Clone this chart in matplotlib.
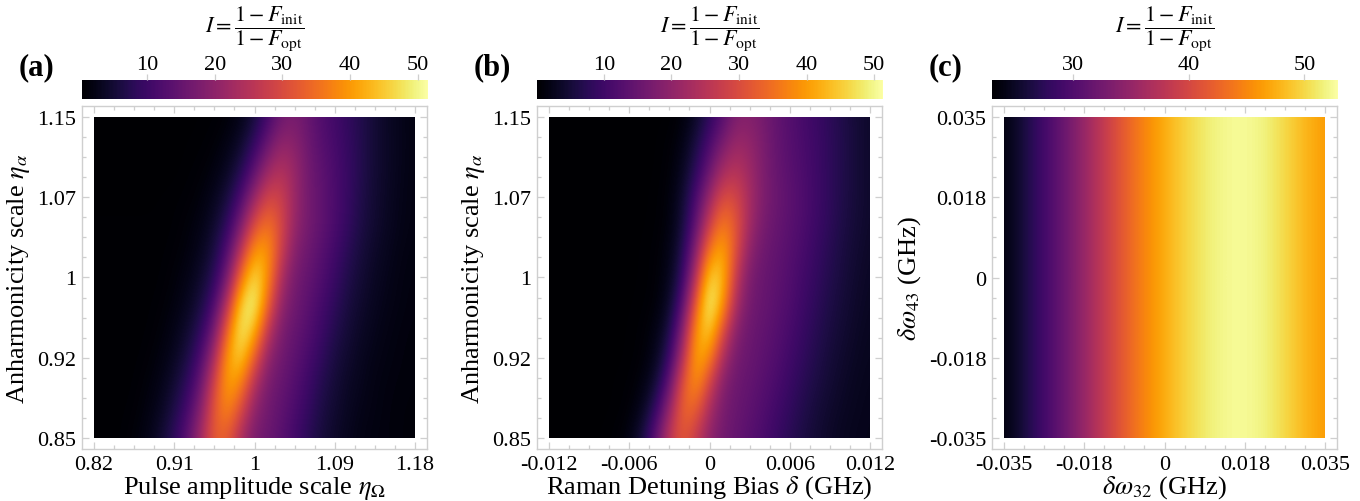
import matplotlib
matplotlib.use("Agg")
import matplotlib.pyplot as plt
import numpy as np
from matplotlib.patches import Rectangle
from matplotlib.ticker import AutoMinorLocator

plt.rcParams["font.family"] = "serif"
plt.rcParams["font.serif"] = ["Liberation Serif", "DejaVu Serif"]
plt.rcParams["mathtext.fontset"] = "stix"

# ---------------- panel (a): eta_Omega vs eta_alpha ----------------
eta_omega = np.linspace(0.82, 1.18, 25)          # columns, step 0.015
eta_alpha = np.linspace(0.85, 1.15, 13)          # rows, step 0.025
improve_a = [
    [0.6, 0.6, 0.8, 1.3, 2.4, 4.8, 8.5, 14.0, 22.8, 32.9, 32.4, 23.2, 17.3, 15.6, 13.3, 10.6, 7.8, 5.6, 4.1, 3.0, 2.2, 1.8, 1.6, 1.4, 1.3],
    [0.6, 0.6, 0.7, 1.0, 1.8, 3.5, 6.5, 11.2, 19.4, 32.6, 38.2, 29.6, 19.7, 16.4, 14.2, 11.7, 9.0, 6.3, 4.7, 3.4, 2.5, 2.0, 1.6, 1.4, 1.3],
    [0.6, 0.6, 0.6, 0.8, 1.4, 2.5, 4.9, 8.6, 15.5, 29.4, 41.8, 37.4, 24.2, 17.4, 15.2, 12.8, 10.1, 7.2, 5.3, 3.8, 2.9, 2.1, 1.7, 1.5, 1.4],
    [0.6, 0.6, 0.6, 0.7, 1.0, 1.8, 3.4, 6.3, 11.7, 23.4, 41.2, 46.1, 32.7, 20.2, 16.4, 14.0, 11.4, 8.6, 6.0, 4.5, 3.2, 2.4, 1.9, 1.6, 1.4],
    [0.6, 0.6, 0.6, 0.6, 0.8, 1.3, 2.4, 4.6, 8.3, 16.9, 35.0, 50.0, 42.9, 26.1, 17.6, 15.1, 12.7, 10.0, 7.1, 5.2, 3.8, 2.8, 2.1, 1.7, 1.5],
    [0.6, 0.6, 0.6, 0.6, 0.7, 1.0, 1.7, 3.2, 5.9, 11.5, 25.6, 46.5, 51.0, 34.0, 20.4, 16.3, 13.8, 11.1, 8.4, 5.9, 4.4, 3.2, 2.4, 1.9, 1.6],
    [0.6, 0.6, 0.6, 0.6, 0.6, 0.8, 1.3, 2.3, 4.3, 8.0, 17.4, 35.9, 48.4, 39.2, 23.7, 17.1, 14.9, 12.3, 9.6, 6.8, 5.0, 3.6, 2.7, 2.0, 1.7],
    [0.6, 0.6, 0.6, 0.6, 0.6, 0.7, 1.0, 1.6, 3.1, 5.9, 12.4, 25.7, 40.5, 40.4, 28.1, 18.9, 15.9, 13.3, 10.6, 7.8, 5.6, 4.1, 3.0, 2.2, 1.8],
    [0.6, 0.6, 0.6, 0.6, 0.6, 0.6, 0.8, 1.3, 2.2, 4.4, 8.5, 17.5, 30.3, 36.2, 29.8, 21.0, 17.0, 14.4, 11.7, 9.0, 6.3, 4.7, 3.4, 2.5, 2.0],
    [0.6, 0.6, 0.6, 0.6, 0.6, 0.6, 0.7, 0.9, 1.5, 3.0, 5.7, 11.6, 21.4, 29.4, 28.4, 21.6, 16.8, 14.4, 11.8, 9.3, 6.7, 4.9, 3.6, 2.6, 2.0],
    [0.5, 0.5, 0.5, 0.5, 0.5, 0.5, 0.5, 0.7, 1.0, 1.8, 3.6, 7.1, 13.9, 21.9, 25.0, 21.5, 16.6, 14.1, 11.7, 9.4, 7.1, 5.0, 3.8, 2.7, 2.1],
    [0.5, 0.5, 0.5, 0.5, 0.5, 0.5, 0.5, 0.6, 0.7, 1.1, 2.2, 4.3, 8.9, 15.5, 20.7, 19.7, 16.0, 13.2, 11.2, 9.1, 7.1, 5.1, 3.8, 2.8, 2.1],
    [0.5, 0.5, 0.5, 0.5, 0.5, 0.5, 0.5, 0.5, 0.6, 0.7, 1.2, 2.5, 5.4, 10.7, 16.0, 17.5, 15.2, 12.5, 10.6, 8.7, 6.9, 5.1, 3.7, 2.8, 2.0],
]

# ---------------- panel (b): Raman detuning bias vs eta_alpha ----------------
detuning = np.linspace(-0.012, 0.012, 25)        # GHz, step 0.001
improve_b = [
    [0.25, 0.25, 0.25, 0.25, 0.3, 0.6, 1.8, 5.7, 14.3, 26.1, 32.0, 26.6, 19.6, 16.2, 14.6, 13.0, 11.3, 9.3, 7.5, 5.9, 4.7, 3.7, 3.0, 2.6, 2.4],
    [0.25, 0.25, 0.25, 0.25, 0.25, 0.3, 0.8, 3.0, 9.0, 21.1, 34.3, 32.5, 22.7, 17.0, 15.2, 13.7, 12.2, 10.2, 8.4, 6.6, 5.2, 4.1, 3.3, 2.8, 2.5],
    [0.25, 0.25, 0.25, 0.25, 0.25, 0.3, 0.5, 1.5, 4.8, 14.2, 31.7, 39.7, 28.3, 18.4, 15.6, 14.5, 12.9, 11.3, 9.3, 7.5, 5.9, 4.7, 3.7, 3.0, 2.6],
    [0.25, 0.25, 0.25, 0.25, 0.25, 0.25, 0.3, 0.8, 2.7, 8.8, 24.3, 42.3, 37.9, 23.2, 16.6, 15.2, 13.7, 12.2, 10.2, 8.4, 6.6, 5.2, 4.1, 3.3, 2.8],
    [0.25, 0.25, 0.25, 0.25, 0.25, 0.25, 0.3, 0.6, 1.8, 5.8, 18.4, 40.1, 46.3, 30.4, 18.6, 15.6, 14.3, 12.8, 11.1, 9.1, 7.3, 5.7, 4.6, 3.6, 3.0],
    [0.25, 0.25, 0.25, 0.25, 0.25, 0.25, 0.25, 0.4, 0.9, 3.6, 12.5, 33.3, 51.3, 40.0, 22.8, 16.4, 15.0, 13.4, 11.9, 9.8, 8.0, 6.2, 5.0, 3.9, 3.2],
    [0.25, 0.25, 0.25, 0.25, 0.25, 0.25, 0.25, 0.3, 0.7, 2.5, 8.6, 25.1, 46.6, 43.9, 26.1, 17.3, 15.2, 13.9, 12.3, 10.4, 8.6, 6.8, 5.4, 4.2, 3.4],
    [0.25, 0.25, 0.25, 0.25, 0.25, 0.25, 0.25, 0.3, 0.6, 1.9, 6.6, 18.8, 36.8, 42.3, 30.3, 19.5, 15.9, 14.3, 12.8, 11.1, 9.1, 7.3, 5.7, 4.6, 3.6],
    [0.25, 0.25, 0.25, 0.25, 0.25, 0.25, 0.25, 0.25, 0.4, 1.3, 5.1, 14.0, 27.6, 37.1, 31.7, 22.2, 17.0, 15.0, 13.3, 11.7, 9.7, 7.9, 6.1, 4.9, 3.9],
    [0.25, 0.25, 0.25, 0.25, 0.25, 0.25, 0.25, 0.25, 0.35, 1.1, 4.2, 11.2, 21.1, 30.4, 29.3, 22.9, 17.8, 15.4, 13.6, 12.0, 10.0, 8.2, 6.4, 5.1, 4.0],
    [0.25, 0.25, 0.25, 0.25, 0.25, 0.25, 0.25, 0.25, 0.25, 0.8, 2.9, 7.9, 15.2, 22.9, 25.2, 21.9, 17.7, 15.0, 13.2, 11.6, 9.9, 8.1, 6.5, 5.1, 4.0],
    [0.25, 0.25, 0.25, 0.25, 0.25, 0.25, 0.25, 0.25, 0.25, 0.6, 2.0, 5.8, 11.4, 17.5, 21.6, 20.5, 17.5, 14.7, 12.9, 11.3, 9.8, 8.1, 6.6, 5.1, 4.0],
    [0.25, 0.25, 0.25, 0.25, 0.25, 0.25, 0.25, 0.25, 0.25, 0.25, 1.1, 3.6, 7.9, 12.7, 18.0, 18.5, 16.8, 14.4, 12.6, 10.9, 9.5, 7.9, 6.4, 5.0, 4.0],
]

# ---------------- panel (c): d_omega32 vs d_omega43 (no d_omega43 dependence) ----------------
dw32 = np.linspace(-0.035, 0.035, 11)            # GHz, step 0.007
dw43 = [-0.035, 0.035]
improve_c_row = [23.2, 28.0, 32.3, 38.0, 43.3, 47.5, 50.8, 52.6, 52.3, 49.3, 46.0]

FRAME = "#cfcfcf"
W, H = 1360, 502


def heat_panel(fig, left_px, xs, ys, z, vmin, vmax, cticks, xticks, xticklabels,
               yticks, yticklabels, xlabel, ylabel, tag):
    xs = np.asarray(xs, float)
    ys = np.asarray(ys, float)
    z = np.asarray(z, float)
    ax = fig.add_axes([left_px / W, 52 / H, 345 / W, 343 / H])
    dx = xs[1] - xs[0]
    dy = ys[1] - ys[0]
    im = ax.imshow(z, origin="lower", cmap="inferno", vmin=vmin, vmax=vmax,
                   interpolation="bicubic", aspect="auto",
                   extent=(xs[0] - dx / 2, xs[-1] + dx / 2, ys[0] - dy / 2, ys[-1] + dy / 2))
    im.set_clip_path(Rectangle((xs[0], ys[0]), xs[-1] - xs[0], ys[-1] - ys[0],
                               transform=ax.transData))
    padx = (xs[-1] - xs[0]) * 12 / 321
    pady = (ys[-1] - ys[0]) * 11 / 321
    ax.set_xlim(xs[0] - padx, xs[-1] + padx)
    ax.set_ylim(ys[0] - pady, ys[-1] + pady)

    ax.set_xticks(xticks, xticklabels)
    ax.set_yticks(yticks, yticklabels)
    ax.xaxis.set_minor_locator(AutoMinorLocator(4))
    ax.yaxis.set_minor_locator(AutoMinorLocator(4))
    ax.tick_params(which="both", direction="in", top=True, right=True,
                   color=FRAME, width=0.9, labelsize=16, pad=4)
    ax.tick_params(which="major", length=5)
    ax.tick_params(which="minor", length=3)
    for sp in ax.spines.values():
        sp.set_color(FRAME)
        sp.set_linewidth(1.0)
    ax.set_xlabel(xlabel, fontsize=19, labelpad=0)
    ax.set_ylabel(ylabel, fontsize=19, labelpad=4)

    # colorbar on top
    cax = fig.add_axes([left_px / W, (H - 100) / H, 346 / W, 19 / H])
    cb = fig.colorbar(im, cax=cax, orientation="horizontal")
    cb.outline.set_visible(False)
    cax.xaxis.set_ticks_position("top")
    cb.set_ticks(cticks)
    cax.tick_params(direction="out", length=4, color=FRAME, width=0.9,
                    labelsize=16, pad=0)
    cx = (left_px + 173) / W
    fig.text(cx, 1 - 29 / H, r"$I=\dfrac{1-F_{\mathrm{init}}}{1-F_{\mathrm{opt}}}$",
             ha="center", va="center", fontsize=16)
    fig.text((left_px - 63) / W, 1 - 68 / H, tag, ha="left", va="center",
             fontsize=22, fontweight="bold")
    return ax


fig = plt.figure(figsize=(W / 100, H / 100), dpi=100)

heat_panel(fig, 82, eta_omega, eta_alpha, improve_a, 0.4, 51.5, [10, 20, 30, 40, 50],
           [0.82, 0.91, 1.0, 1.09, 1.18], ["0.82", "0.91", "1", "1.09", "1.18"],
           [0.85, 0.925, 1.0, 1.075, 1.15], ["0.85", "0.92", "1", "1.07", "1.15"],
           r"Pulse amplitude scale $\eta_\Omega$", r"Anharmonicity scale $\eta_\alpha$", "(a)")

heat_panel(fig, 537, detuning, eta_alpha, improve_b, 0.1, 51.3, [10, 20, 30, 40, 50],
           [-0.012, -0.006, 0.0, 0.006, 0.012], ["-0.012", "-0.006", "0", "0.006", "0.012"],
           [0.85, 0.925, 1.0, 1.075, 1.15], ["0.85", "0.92", "1", "1.07", "1.15"],
           r"Raman Detuning Bias $\delta$ (GHz)", r"Anharmonicity scale $\eta_\alpha$", "(b)")

heat_panel(fig, 992, dw32, dw43, [improve_c_row, improve_c_row], 23.0, 52.9, [30, 40, 50],
           [-0.035, -0.0175, 0.0, 0.0175, 0.035], ["-0.035", "-0.018", "0", "0.018", "0.035"],
           [-0.035, -0.0175, 0.0, 0.0175, 0.035], ["-0.035", "-0.018", "0", "0.018", "0.035"],
           r"$\delta\omega_{32}$ (GHz)", r"$\delta\omega_{43}$ (GHz)", "(c)")

fig.savefig("out.png", dpi=100)
